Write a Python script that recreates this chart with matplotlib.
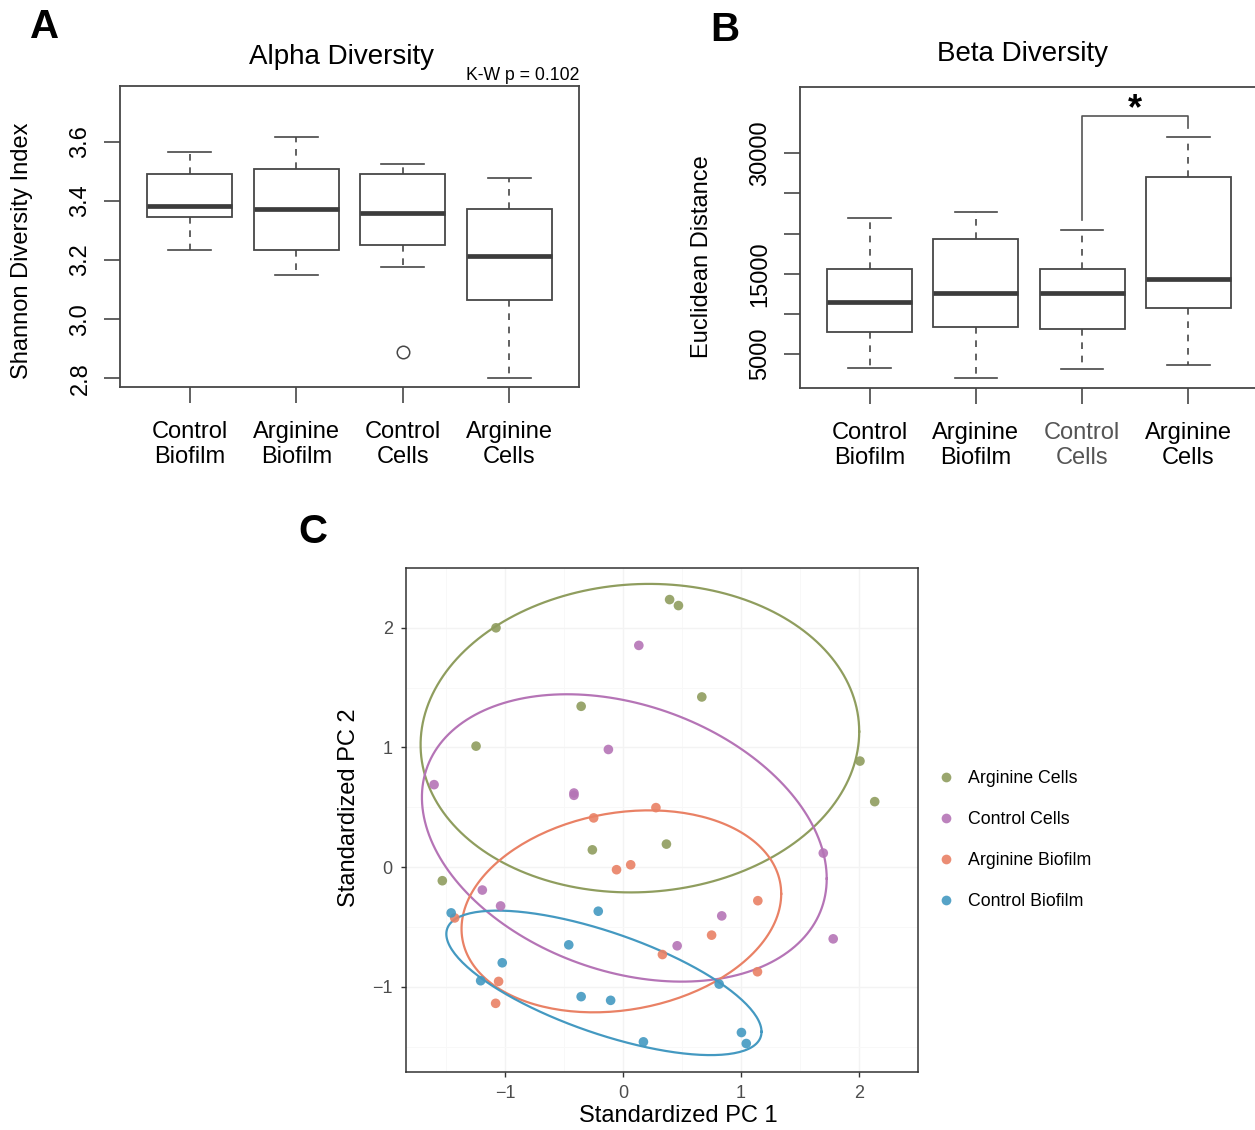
import numpy as np
import matplotlib.pyplot as plt
from matplotlib.lines import Line2D

plt.rcParams['font.family'] = ['Liberation Sans', 'DejaVu Sans']

# ---- data ----
groups = ['Control\nBiofilm', 'Arginine\nBiofilm', 'Control\nCells', 'Arginine\nCells']

# alpha diversity (Shannon) box stats
alpha_lo = [3.234, 3.151, 3.178, 2.803]
alpha_q1 = [3.344, 3.234, 3.252, 3.065]
alpha_med = [3.383, 3.374, 3.360, 3.215]
alpha_q3 = [3.489, 3.509, 3.492, 3.373]
alpha_hi = [3.564, 3.615, 3.525, 3.476]
alpha_out = [[], [], [2.888], []]
alpha_ticks = [2.8, 3.0, 3.2, 3.4, 3.6]

# beta diversity (euclidean distance) box stats
beta_lo = [3300, 2100, 3200, 3700]
beta_q1 = [7740, 8360, 8160, 10730]
beta_med = [11500, 12600, 12640, 14340]
beta_q3 = [15590, 19370, 15590, 27090]
beta_hi = [21900, 22700, 20400, 32040]
beta_out = [[], [], [], []]
beta_ticks = [5000, 10000, 15000, 20000, 25000, 30000]
beta_labels = ['5000', '', '15000', '', '', '30000']
# significance bracket: left foot, top, right foot
sig_pair = [3, 4]
sig_y = [21700, 34650, 33100]

# PCA scores
pca_names = ['Arginine Cells', 'Control Cells', 'Arginine Biofilm', 'Control Biofilm']
pca_colors = ['#8f9d5e', '#b574b6', '#e98165', '#4499c1']
arg_cells_x = [0.394, 0.469, -1.078, 0.667, -0.356, -1.247, 2.008, 2.133, 0.367, -0.261, -1.533]
arg_cells_y = [2.236, 2.186, 2.000, 1.422, 1.344, 1.011, 0.886, 0.547, 0.192, 0.144, -0.114]
ctl_cells_x = [0.133, -0.125, -1.603, -0.417, -0.417, 1.697, -1.194, -1.039, 0.836, 0.458, 1.781]
ctl_cells_y = [1.853, 0.983, 0.689, 0.619, 0.600, 0.117, -0.192, -0.325, -0.408, -0.658, -0.600]
arg_bio_x = [0.278, -0.250, 0.064, -0.056, 1.142, -1.428, 0.750, 0.333, 1.139, -1.056, -1.081]
arg_bio_y = [0.497, 0.411, 0.019, -0.022, -0.281, -0.425, -0.569, -0.731, -0.875, -0.956, -1.139]
ctl_bio_x = [-1.458, -0.211, -0.461, -1.025, -1.208, 0.814, -0.356, -0.106, 1.003, 0.172, 1.044]
ctl_bio_y = [-0.383, -0.369, -0.650, -0.800, -0.950, -0.978, -1.083, -1.114, -1.383, -1.461, -1.475]
ELLIPSE_LEVEL = 0.655

edge = '#474747'


def draw_box(ax, lo, q1, med, q3, hi, out):
    stats = []
    for i in range(len(med)):
        stats.append(dict(whislo=lo[i], q1=q1[i], med=med[i], q3=q3[i],
                          whishi=hi[i], fliers=np.array(out[i])))
    ax.bxp(stats, positions=[1, 2, 3, 4], widths=0.8, capwidths=0.4, patch_artist=True,
           boxprops=dict(facecolor='white', edgecolor=edge, linewidth=1.3),
           medianprops=dict(color='#3c3c3c', linewidth=3.4, solid_capstyle='butt'),
           whiskerprops=dict(color=edge, linewidth=1.2, linestyle=(0, (4, 4))),
           capprops=dict(color=edge, linewidth=1.2),
           flierprops=dict(marker='o', markersize=9, markerfacecolor='none',
                           markeredgecolor=edge, markeredgewidth=1.1))
    ax.set_xlim(0.345, 4.655)
    ax.set_xticks([1, 2, 3, 4])
    ax.set_xticklabels(groups, linespacing=1.15)
    for s in ax.spines.values():
        s.set_color(edge)
        s.set_linewidth(1.3)
    ax.tick_params(axis='both', length=11.5, width=1.2, color=edge, labelsize=17, labelcolor='black')
    ax.tick_params(axis='x', pad=13)
    ax.tick_params(axis='y', pad=9)


fig = plt.figure(figsize=(12.55, 11.3), dpi=100)

# ---- A ----
axa = fig.add_axes([120 / 1255, 1 - 387 / 1130, 459 / 1255, 301 / 1130])
draw_box(axa, alpha_lo, alpha_q1, alpha_med, alpha_q3, alpha_hi, alpha_out)
axa.set_ylim(2.771, 3.788)
axa.set_yticks(alpha_ticks)
axa.set_yticklabels(['%.1f' % v for v in alpha_ticks], rotation=90, va='center')
axa.set_title('Alpha Diversity', fontsize=20, pad=16, x=0.482)
axa.set_ylabel('Shannon Diversity Index', fontsize=17)
axa.yaxis.set_label_coords(-0.19, 0.452)
axa.text(1.0, 1.006, 'K-W p = 0.102', transform=axa.transAxes, ha='right', va='bottom', fontsize=12.7)

# ---- B ----
axb = fig.add_axes([800 / 1255, 1 - 388 / 1130, 458 / 1255, 301 / 1130])
draw_box(axb, beta_lo, beta_q1, beta_med, beta_q3, beta_hi, beta_out)
axb.set_ylim(800, 38250)
axb.set_yticks(beta_ticks)
axb.set_yticklabels(beta_labels, rotation=90, va='center')
axb.get_xticklabels()[2].set_color('#555555')
axb.set_title('Beta Diversity', fontsize=20, pad=19, x=0.485)
axb.set_ylabel('Euclidean Distance', fontsize=17)
axb.yaxis.set_label_coords(-0.19, 0.435)
axb.plot([sig_pair[0], sig_pair[0], sig_pair[1], sig_pair[1]],
         [sig_y[0], sig_y[1], sig_y[1], sig_y[2]], color='#555555', lw=1.2)
axb.text(sum(sig_pair) / 2, sig_y[1] - 1400, '*', ha='center', va='bottom',
         fontsize=26, fontweight='bold')

# ---- C ----
axc = fig.add_axes([406 / 1255, 1 - 1072 / 1130, 512 / 1255, 504 / 1130])
pca_x = [arg_cells_x, ctl_cells_x, arg_bio_x, ctl_bio_x]
pca_y = [arg_cells_y, ctl_cells_y, arg_bio_y, ctl_bio_y]
t = np.linspace(0, 2 * np.pi, 200)
for gx, gy, col in zip(pca_x, pca_y, pca_colors):
    pts = np.column_stack([gx, gy])
    n = len(gx)
    ctr = pts.mean(axis=0)
    cov = np.cov(pts.T)
    # radius like stat_ellipse(type='norm'), F quantile with dfn = 2 in closed form
    dfd = n - 1
    qf = dfd / 2 * ((1 - ELLIPSE_LEVEL) ** (-2 / dfd) - 1)
    r = np.sqrt(2 * qf)
    L = np.linalg.cholesky(cov)
    circ = np.vstack([np.cos(t), np.sin(t)])
    ell = ctr[:, None] + r * L @ circ
    axc.plot(ell[0], ell[1], color=col, lw=1.6, zorder=2)
for gx, gy, col in zip(pca_x, pca_y, pca_colors):
    axc.scatter(gx, gy, s=48, color=col, alpha=0.9, edgecolors='none', zorder=3)

axc.set_xlim(-1.841, 2.443)
axc.set_ylim(-1.713, 2.498)
axc.set_xticks([-1, 0, 1, 2])
axc.set_yticks([-1, 0, 1, 2])
axc.set_xticks(np.arange(-1.5, 2.6, 1.0), minor=True)
axc.set_yticks(np.arange(-1.5, 2.6, 1.0), minor=True)
axc.set_xticklabels(['\u22121', '0', '1', '2'])
axc.set_yticklabels(['\u22121', '0', '1', '2'])
axc.grid(True, which='major', color='#f3f3f3', lw=1.0, zorder=0)
axc.grid(True, which='minor', color='#f8f8f8', lw=0.7, zorder=0)
axc.set_axisbelow(True)
axc.tick_params(which='minor', length=0)
axc.tick_params(which='major', length=3.5, width=1, color='#333333',
                labelsize=13, labelcolor='#4d4d4d', pad=6)
for s in axc.spines.values():
    s.set_color('#333333')
    s.set_linewidth(1.1)
axc.set_xlabel('Standardized PC 1', fontsize=17)
axc.set_ylabel('Standardized PC 2', fontsize=17)
axc.xaxis.set_label_coords(0.531, -0.066)
axc.yaxis.set_label_coords(-0.09, 0.524)

handles = [Line2D([], [], marker='o', ls='none', ms=7, color=c, alpha=0.9, markeredgewidth=0)
           for c in pca_colors]
fig.legend(handles, pca_names, loc='center left', bbox_to_anchor=(937 / 1255, 1 - 840 / 1130),
           frameon=False, fontsize=12.8, handlelength=1.0, handletextpad=0.75,
           labelspacing=1.34, borderpad=0, borderaxespad=0)

# panel letters
fig.text(45 / 1255, 1 - 27 / 1130, 'A', fontsize=29, fontweight='bold', ha='center', va='center')
fig.text(725 / 1255, 1 - 30 / 1130, 'B', fontsize=29, fontweight='bold', ha='center', va='center')
fig.text(313 / 1255, 1 - 532 / 1130, 'C', fontsize=29, fontweight='bold', ha='center', va='center')

fig.savefig('out.png', dpi=100)
